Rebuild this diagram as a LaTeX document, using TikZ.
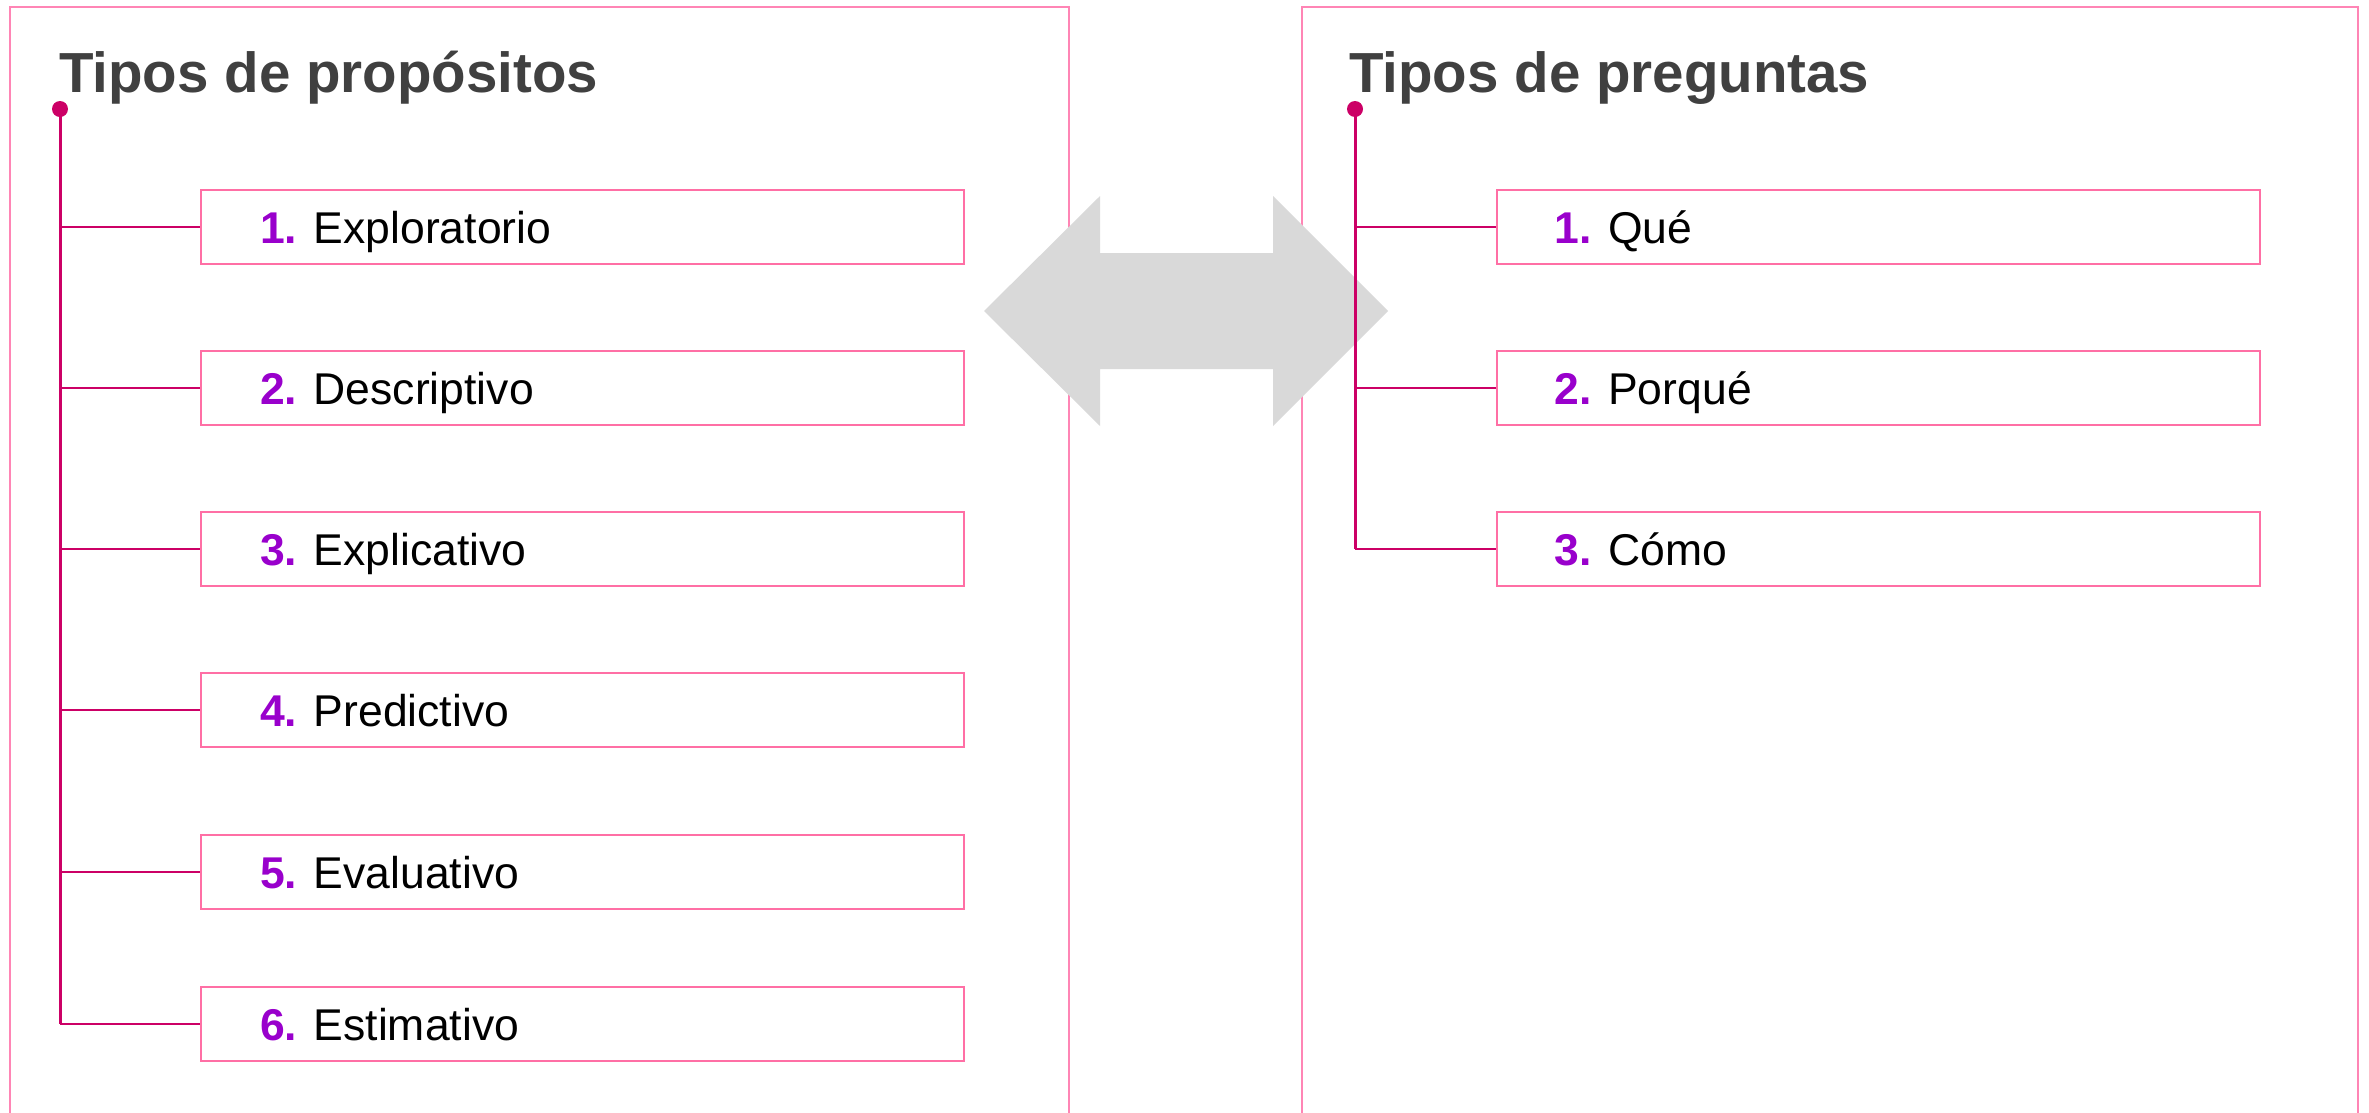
\documentclass[tikz,border=0pt]{standalone}
\usepackage{fontspec}
\setmainfont{Liberation Sans}
\definecolor{panelpink}{HTML}{FF85B5}
\definecolor{boxpink}{HTML}{FF6FA5}
\definecolor{magline}{HTML}{CC0066}
\definecolor{numpurple}{HTML}{9900CC}
\definecolor{titlegray}{HTML}{404040}
\definecolor{arrowgray}{HTML}{D9D9D9}
\tikzset{
  panel/.style={draw=panelpink, line width=2pt},
  itembox/.style={draw=boxpink, line width=2pt, fill=white, minimum width=763pt, minimum height=74pt, inner sep=0pt},
  itemtext/.style={inner sep=0pt, anchor=base west, font=\fontsize{44.5}{52}\selectfont},
  titletext/.style={inner sep=0pt, anchor=base west, text=titlegray, font=\fontsize{56.5}{68}\selectfont\bfseries},
  trunk/.style={draw=magline, line width=3pt},
  branch/.style={draw=magline, line width=2pt},
  bigarrow/.style={fill=arrowgray, draw=none}
}
\newcommand{\numlab}[1]{\textcolor{numpurple}{\textbf{#1}}}
\begin{document}
\begin{tikzpicture}[x=1pt,y=-1pt]
\useasboundingbox (0,0) rectangle (2369,1112);
% panels
\draw[panel] (10,1113) -- (10,7) -- (1069,7) -- (1069,1113);
\draw[panel] (1302,1113) -- (1302,7) -- (2358,7) -- (2358,1113);
% double arrow
\fill[bigarrow] (984,311) -- (1100,196) -- (1100,253) -- (1273,253) -- (1273,196) -- (1388,311) -- (1273,426) -- (1273,369) -- (1100,369) -- (1100,426) -- cycle;
% titles
\node[titletext] (titleL) at (59,92) {Tipos de propósitos};
\node[titletext] (titleR) at (1349,92) {Tipos de preguntas};
% left tree
\coordinate (dotL) at (60,109);
\foreach \i/\y/\t in {1/227/Exploratorio,2/388/Descriptivo,3/549/Explicativo,4/710/Predictivo,5/872/Evaluativo,6/1024/Estimativo}{
  \node[itembox] (L\i) at (582.5,\y) {};
  \node[itemtext] (tL\i) at ([xshift=60pt,yshift=-16pt]L\i.west) {\numlab{\i.} \t};
  \draw[branch] (dotL |- L\i.west) -- (L\i.west);
}
\draw[trunk] (dotL) -- (dotL |- L6.west);
\fill[magline] (dotL) circle (8pt);
% right tree
\coordinate (dotR) at (1355,109);
\foreach \i/\y/\t in {1/227/Qué,2/388/Porqué,3/549/Cómo}{
  \node[itembox] (R\i) at (1878,\y) {};
  \node[itemtext] (tR\i) at ([xshift=59pt,yshift=-16pt]R\i.west) {\numlab{\i.} \t};
  \draw[branch] (dotR |- R\i.west) -- (R\i.west);
}
\draw[trunk] (dotR) -- (dotR |- R3.west);
\fill[magline] (dotR) circle (8pt);
\end{tikzpicture}
\end{document}
